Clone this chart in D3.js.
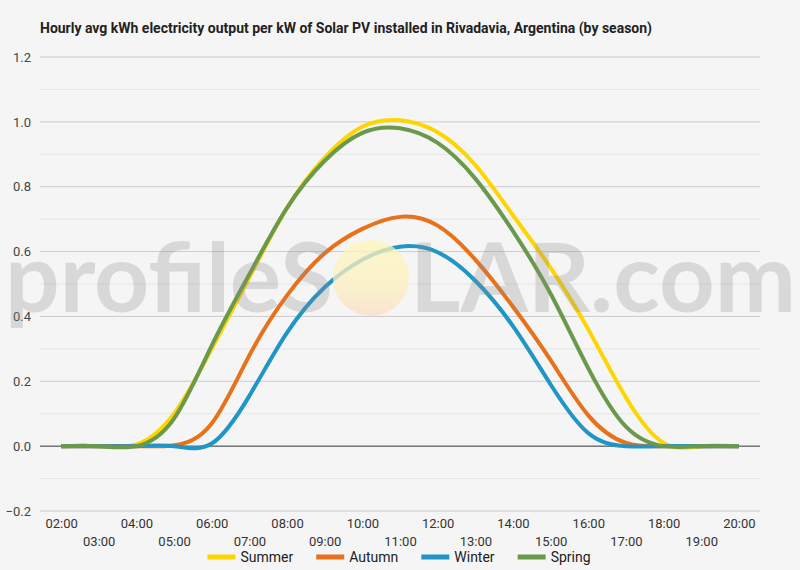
<!DOCTYPE html>
<html>
<head>
<meta charset="utf-8">
<script src="https://cdn.jsdelivr.net/npm/d3@7/dist/d3.min.js"></script>
<style>
  html, body { margin: 0; padding: 0; background: #f5f5f5; }
  svg { display: block; font-family: Roboto, "Noto Sans", sans-serif; }
</style>
</head>
<body>
<svg id="chart" width="800" height="570"></svg>
<script>
// ---- data ----
const hours = ["02:00","03:00","04:00","05:00","06:00","07:00","08:00","09:00","10:00","11:00",
               "12:00","13:00","14:00","15:00","16:00","17:00","18:00","19:00","20:00"];
const summer = [0, 0, 0.005, 0.10, 0.30, 0.52, 0.735, 0.89, 0.985, 1.005, 0.968, 0.867, 0.712, 0.55, 0.36, 0.15, 0.01, 0, 0];
const autumn = [0, 0, 0, 0.003, 0.07, 0.28, 0.465, 0.595, 0.67, 0.707, 0.68, 0.575, 0.43, 0.265, 0.095, 0.01, 0, 0, 0];
const winter = [0, 0, 0, 0, 0.008, 0.155, 0.35, 0.49, 0.575, 0.615, 0.598, 0.51, 0.37, 0.19, 0.04, 0, 0, 0, 0];
const spring = [0, 0, 0, 0.085, 0.31, 0.53, 0.735, 0.88, 0.966, 0.98, 0.935, 0.825, 0.663, 0.47, 0.24, 0.06, 0, 0, 0];
const seriesNames = ["Summer", "Autumn", "Winter", "Spring"];
const seriesColors = ["#fdd500", "#e8711c", "#2095c6", "#6a994b"];
const yTicks = [-0.2, 0, 0.2, 0.4, 0.6, 0.8, 1.0, 1.2];
const yMinor = [-0.1, 0.1, 0.3, 0.5, 0.7, 0.9, 1.1];
const title = "Hourly avg kWh electricity output per kW of Solar PV installed in Rivadavia, Argentina (by season)";

const series = [summer, autumn, winter, spring];

const svg = d3.select("#chart");
const W = 800, H = 570;
const plot = { left: 40, right: 760, top: 57, bottom: 511 };

svg.append("rect").attr("width", W).attr("height", H).attr("fill", "#f5f5f5");

const x = d3.scalePoint().domain(hours).range([plot.left, plot.right]).padding(0.56);
const y = d3.scaleLinear().domain([-0.2, 1.2]).range([plot.bottom, plot.top]);

// title
const t = svg.append("text")
  .attr("x", 40).attr("y", 33)
  .attr("font-size", 14).attr("font-weight", "bold").attr("fill", "#222")
  .text(title);
if (t.node().getComputedTextLength() > 612) {
  t.attr("textLength", 612).attr("lengthAdjust", "spacingAndGlyphs");
}

// gridlines
svg.append("g").selectAll("line").data(yMinor).join("line")
  .attr("x1", plot.left).attr("x2", plot.right)
  .attr("y1", d => y(d)).attr("y2", d => y(d))
  .attr("stroke", "#e6e6e6").attr("stroke-width", 1);
svg.append("g").selectAll("line").data(yTicks.filter(d => d !== 0)).join("line")
  .attr("x1", plot.left).attr("x2", plot.right)
  .attr("y1", d => y(d)).attr("y2", d => y(d))
  .attr("stroke", "#cccccc").attr("stroke-width", 1);

// y axis labels
const yAxis = d3.axisLeft(y).tickValues(yTicks).tickSize(0).tickPadding(9)
  .tickFormat(d => d3.format(".1f")(d));
const gy = svg.append("g").attr("transform", `translate(${plot.left},0)`).call(yAxis);
gy.select(".domain").remove();
gy.selectAll("text").attr("font-size", 13).attr("fill", "#444").attr("font-family", "Roboto, sans-serif");

// x axis labels (alternating rows)
const xAxis = d3.axisBottom(x).tickSize(0).tickPadding(0);
const gx = svg.append("g").attr("transform", `translate(0,${plot.bottom})`).call(xAxis);
gx.select(".domain").remove();
gx.selectAll("text")
  .attr("font-size", 13).attr("fill", "#333").attr("font-family", "Roboto, sans-serif")
  .attr("dy", null)
  .attr("y", (d, i) => i % 2 === 0 ? 17 : 35);

// zero baseline
svg.append("line")
  .attr("x1", plot.left).attr("x2", plot.right)
  .attr("y1", y(0)).attr("y2", y(0))
  .attr("stroke", "#333").attr("stroke-width", 1);

// lines
const line = d3.line()
  .x((d, i) => x(hours[i]))
  .y(d => y(d))
  .curve(d3.curveNatural);

svg.append("g").selectAll("path").data(series).join("path")
  .attr("d", d => line(d))
  .attr("fill", "none")
  .attr("stroke", (d, i) => seriesColors[i])
  .attr("stroke-width", 4)
  .attr("stroke-linejoin", "round")
  .attr("stroke-linecap", "butt");

// watermark
const defs = svg.append("defs");
const grad = defs.append("linearGradient").attr("id", "sun").attr("x1", 0).attr("y1", 0).attr("x2", 0).attr("y2", 1);
grad.append("stop").attr("offset", "0%").attr("stop-color", "#fff6b8");
grad.append("stop").attr("offset", "60%").attr("stop-color", "#fdf0c0");
grad.append("stop").attr("offset", "100%").attr("stop-color", "#fbdcc4");
const wm = svg.append("g").attr("pointer-events", "none");
wm.append("text")
  .attr("x", 5).attr("y", 312)
  .attr("font-family", "Lato, 'Open Sans', sans-serif").attr("font-weight", "bold")
  .attr("font-size", 96).attr("fill", "#8c8c8c").attr("fill-opacity", 0.28)
  .attr("textLength", 328).attr("lengthAdjust", "spacingAndGlyphs")
  .text("profileS");
wm.append("circle")
  .attr("cx", 371).attr("cy", 278).attr("r", 38)
  .attr("fill", "url(#sun)").attr("fill-opacity", 0.75);
wm.append("text")
  .attr("x", 410).attr("y", 312)
  .attr("font-family", "Lato, 'Open Sans', sans-serif").attr("font-weight", "bold")
  .attr("font-size", 96).attr("fill", "#8c8c8c").attr("fill-opacity", 0.28)
  .attr("textLength", 386).attr("lengthAdjust", "spacingAndGlyphs")
  .text("LAR.com");

// legend
const legend = svg.append("g");
let cx = 0;
seriesNames.forEach((name, i) => {
  const g = legend.append("g").attr("transform", `translate(${cx},0)`);
  g.append("rect").attr("x", 0).attr("y", -2.5).attr("width", 28).attr("height", 5).attr("fill", seriesColors[i]);
  const tx = g.append("text").attr("x", 33).attr("y", 5)
    .attr("font-size", 14).attr("fill", "#222").text(name);
  cx += 33 + tx.node().getComputedTextLength() + 23;
});
const legendW = cx - 23;
legend.attr("transform", `translate(${400 - legendW / 2 - 1},557)`);
</script>
</body>
</html>
